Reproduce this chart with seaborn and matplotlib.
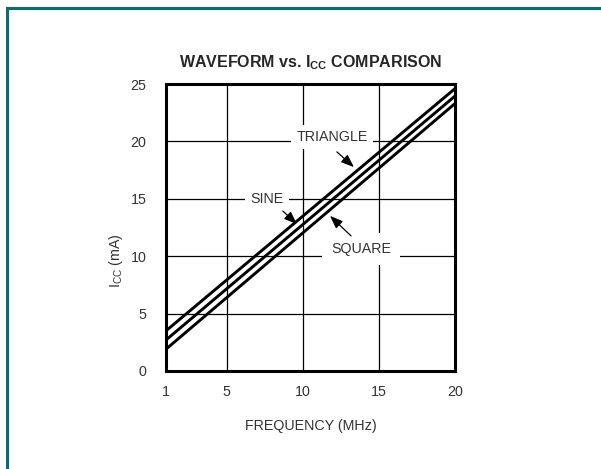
import seaborn as sns
import pandas as pd
import matplotlib.pyplot as plt
from matplotlib.patches import Rectangle

# values (endpoints of the straight lines)
freq = [1, 20]
triangle = [3.5, 24.6]
sine = [2.7, 23.95]
square = [1.9, 23.3]
xticks = [1, 5, 10, 15, 20]
yticks = [0, 5, 10, 15, 20, 25]

sns.set_theme(style='white')
plt.rcParams['font.family'] = ['Liberation Sans', 'DejaVu Sans']
plt.rcParams['mathtext.fontset'] = 'custom'
plt.rcParams['mathtext.rm'] = 'Liberation Sans'
plt.rcParams['mathtext.bf'] = 'Liberation Sans:bold'

df = pd.DataFrame({'freq': freq * 3,
                   'icc': triangle + sine + square,
                   'wave': ['TRIANGLE'] * 2 + ['SINE'] * 2 + ['SQUARE'] * 2})

fig = plt.figure(figsize=(6.01, 4.69), dpi=100)
ax = fig.add_axes([166 / 601, 1 - 371 / 469, 289 / 601, 287 / 469])

for x in xticks[1:-1]:
    ax.axvline(x, color='black', lw=0.9, zorder=1)
for y in yticks[1:-1]:
    ax.axhline(y, color='black', lw=0.9, zorder=1)

sns.lineplot(data=df, x='freq', y='icc', units='wave', estimator=None,
             color='black', lw=2.1, ax=ax, zorder=3)

fs = 10.3
ax.set_xlim(1, 20)
ax.set_ylim(0, 25)
ax.set_xticks(xticks)
ax.set_yticks(yticks)
ax.tick_params(length=0, labelsize=fs, colors='#333333')
ax.tick_params(axis='x', pad=10)
ax.tick_params(axis='y', pad=14)
for s in ax.spines.values():
    s.set_linewidth(2.2)
    s.set_color('black')

ax.set_xlabel('FREQUENCY (MHz)', fontsize=fs, color='#333333')
ax.set_ylabel(r'I$_{\mathrm{CC}}$ (mA)', fontsize=fs, color='#333333')
ax.xaxis.set_label_coords(0.5, -0.167)
ax.yaxis.set_label_coords(-0.142, 0.385)
ax.set_title(r'WAVEFORM vs. I$_{\mathbf{CC}}$ COMPARISON', fontsize=11.5,
             fontweight='bold', pad=12)

box = dict(boxstyle='square,pad=0.35', fc='white', ec='none')
arrow = dict(arrowstyle='-|>,head_length=0.65,head_width=0.25', color='black', lw=0.9)
ax.text(11.91, 20.38, 'TRIANGLE', ha='center', va='center', fontsize=fs,
        color='#333333', bbox=box, zorder=4)
ax.annotate('', xy=(13.49, 17.6), xytext=(12.1, 19.25), arrowprops=arrow, zorder=5)
ax.text(7.64, 14.98, 'SINE', ha='center', va='center', fontsize=fs,
        color='#333333', bbox=box, zorder=4)
ax.annotate('', xy=(9.74, 12.63), xytext=(8.55, 14.1), arrowprops=arrow, zorder=5)
ax.text(13.82, 10.63, 'SQUARE', ha='center', va='center', fontsize=fs,
        color='#333333', bbox=dict(boxstyle='square,pad=0.6', fc='white', ec='none'),
        zorder=4)
ax.annotate('', xy=(11.65, 13.68), xytext=(13.3, 11.6), arrowprops=arrow, zorder=5)

# teal page frame (right/bottom edges fall outside the image)
fig.patches.append(Rectangle((7 / 601, -0.1), 2, 1.1 - 8 / 469,
                             transform=fig.transFigure, fill=False,
                             ec='#0d6c6f', lw=2.2))

fig.savefig('out.png', dpi=100)
